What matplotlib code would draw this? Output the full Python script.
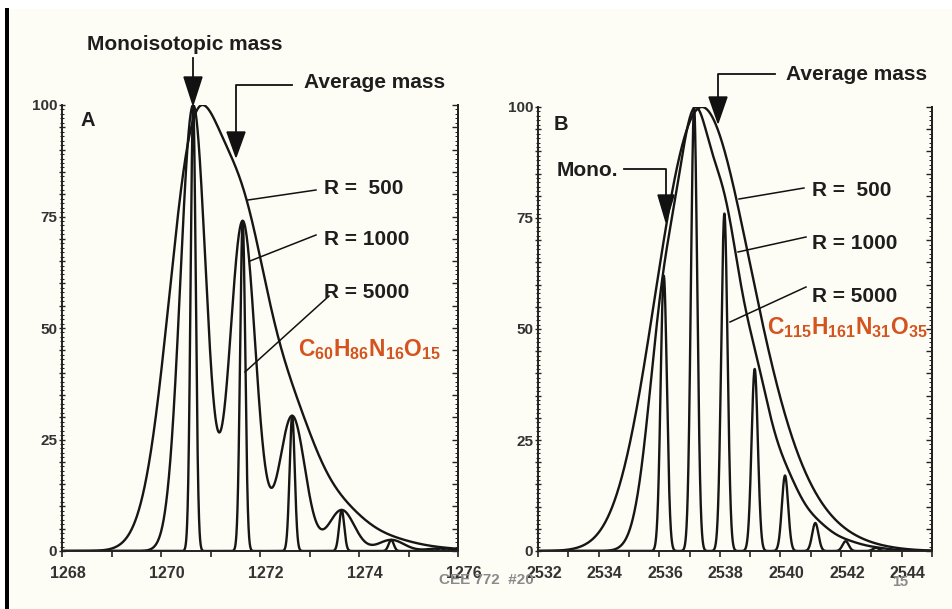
import numpy as np
import matplotlib
matplotlib.use("Agg")
import matplotlib.pyplot as plt
from matplotlib.ticker import MultipleLocator, FuncFormatter
from matplotlib.patches import Polygon, Rectangle
from matplotlib.lines import Line2D
import matplotlib.transforms as mtransforms

# ---------------- data ----------------
resolutions = [500, 1000, 5000]

# Panel A: C60H86N16O15 isotope peaks (R = 5000 heights)
massA = [1270.65, 1271.65, 1272.65, 1273.65, 1274.65, 1275.65]
intA = [100, 74, 30.3, 9.2, 2.5, 0.6]

# Panel B: C115H161N31O35 isotope peaks (R = 5000 heights)
massB = [2536.15, 2537.15, 2538.15, 2539.15, 2540.15, 2541.15, 2542.15, 2543.15]
intB = [62, 100, 76, 41, 17, 6.3, 2.2, 0.7]

xtickA = [1268, 1270, 1272, 1274, 1276]
xtickB = [2532, 2534, 2536, 2538, 2540, 2542, 2544]
ytick = [0, 25, 50, 75, 100]

VALLEY = 0.48  # FWHM = VALLEY * m / R  (10 % valley definition)

W, H = 953, 609
BG = "#fdfdf5"
plt.rcParams["font.family"] = ["Liberation Sans", "DejaVu Sans"]
plt.rcParams["mathtext.fontset"] = "custom"
plt.rcParams["mathtext.rm"] = "Liberation Sans"
plt.rcParams["mathtext.bf"] = "Liberation Sans:bold"

fig = plt.figure(figsize=(W / 100, H / 100), dpi=100)
fig.patch.set_facecolor("white")


def fx(x):
    return x / W


def fy(y):
    return 1 - y / H


# slide background + black left bar
fig.patches.append(Rectangle((fx(9), 0), 1 - fx(9), fy(9), transform=fig.transFigure,
                             facecolor=BG, edgecolor="none", zorder=-10))
fig.patches.append(Rectangle((fx(5), 0), fx(4), fy(8), transform=fig.transFigure,
                             facecolor="black", edgecolor="none", zorder=-9))


def spectrum(x, masses, ints, R):
    masses = np.asarray(masses)
    ints = np.asarray(ints, dtype=float)
    fwhm = VALLEY * masses[0] / R
    sig = fwhm / 2.3548
    y = (ints[None, :] * np.exp(-(x[:, None] - masses[None, :]) ** 2 / (2 * sig ** 2))).sum(axis=1)
    return 100 * y / y.max()


def make_axes(rect, xlim, xticks, masses, ints):
    ax = fig.add_axes(rect)
    ax.set_facecolor("none")
    x = np.linspace(xlim[0], xlim[1], 6000)
    for R in resolutions:
        ax.plot(x, spectrum(x, masses, ints, R), color="#161616", lw=1.7)
    ax.set_xlim(*xlim)
    ax.set_ylim(0, 100)
    ax.spines["top"].set_visible(False)
    for s in ["left", "right", "bottom"]:
        ax.spines[s].set_linewidth(1.4)
        ax.spines[s].set_color("#222222")
    ax.set_xticks(xticks)
    ax.xaxis.set_minor_locator(MultipleLocator(1))
    ax.tick_params(axis="x", which="both", direction="out", length=4, width=1.2,
                   labelsize=11.5, pad=7, colors="#222222", labelcolor="#333333")
    for lab in ax.get_xticklabels():
        lab.set_fontweight("bold")
    off = mtransforms.ScaledTranslation(6 / 100, 0, fig.dpi_scale_trans)
    for lab in ax.get_xticklabels():
        lab.set_transform(lab.get_transform() + off)
    ax.yaxis.set_major_locator(MultipleLocator(5))
    ax.yaxis.set_minor_locator(MultipleLocator(1))
    ax.yaxis.set_major_formatter(FuncFormatter(lambda v, p: f"{int(v)}" if int(v) in ytick else ""))
    ax.tick_params(axis="y", which="major", direction="inout", length=5, width=1.0,
                   labelsize=11, pad=1, colors="#222222", labelcolor="#333333")
    ax.tick_params(axis="y", which="minor", direction="inout", length=3, width=0.8,
                   colors="#222222")
    for lab in ax.get_yticklabels():
        lab.set_fontweight("bold")
    # right spine ticks (inward)
    axr = ax.twinx()
    axr.set_ylim(0, 100)
    axr.set_facecolor("none")
    for s in ["top", "left", "bottom"]:
        axr.spines[s].set_visible(False)
    axr.spines["right"].set_linewidth(1.4)
    axr.spines["right"].set_color("#222222")
    axr.yaxis.set_major_locator(MultipleLocator(5))
    axr.yaxis.set_minor_locator(MultipleLocator(1))
    axr.tick_params(axis="y", which="major", direction="in", length=4, width=1.0,
                    labelright=False, colors="#222222")
    axr.tick_params(axis="y", which="minor", direction="in", length=2, width=0.7,
                    colors="#222222")
    return ax


axA = make_axes([fx(62), fy(551), (458 - 62) / W, (551 - 105) / H], (1268, 1276), xtickA, massA, intA)
axB = make_axes([fx(538), fy(551), (932 - 538) / W, (551 - 107) / H], (2532, 2545), xtickB, massB, intB)


# ---------------- annotations ----------------
def fline(pts, lw=1.3):
    xs = [fx(p[0]) for p in pts]
    ys = [fy(p[1]) for p in pts]
    fig.lines.append(Line2D(xs, ys, transform=fig.transFigure, color="#111111", lw=lw))


def farrow(x, ytop, ytip, hw=9):
    fig.patches.append(Polygon([(fx(x - hw), fy(ytop)), (fx(x + hw), fy(ytop)), (fx(x), fy(ytip))],
                               closed=True, transform=fig.transFigure, facecolor="#111111",
                               edgecolor="#111111", zorder=5))


def ftext(x, y, s, size=15, ha="left", color="#1e1e1e", weight="bold"):
    fig.text(fx(x), fy(y), s, ha=ha, va="center", fontsize=size, color=color, fontweight=weight)


# Panel A
ftext(185, 45, "Monoisotopic mass", ha="center")
fline([(193, 58), (193, 80)])
farrow(193, 77, 105, hw=9)
ftext(375, 83, "Average mass", ha="center")
fline([(292, 85), (236, 85), (236, 134)])
farrow(236, 132, 157, hw=9)
ftext(88, 121, "A", size=14.5, ha="center")
ftext(324, 188, "R =  500")
fline([(316, 190), (248, 200)], lw=1.1)
ftext(324, 239, "R = 1000")
fline([(316, 235), (250, 261)], lw=1.1)
ftext(324, 293, "R = 5000")
fline([(329, 296), (245, 372)], lw=1.1)
fig.text(fx(298), fy(350), r"$\mathbf{C_{60}H_{86}N_{16}O_{15}}$", ha="left", va="center",
         fontsize=16.5, color="#d4541f")

# Panel B
ftext(857, 74, "Average mass", ha="center")
fline([(775, 74), (718, 74), (718, 99)])
farrow(718, 97, 123, hw=9)
ftext(587, 170, "Mono.", ha="center")
fline([(624, 169), (666, 169), (666, 197)])
farrow(666, 195, 222, hw=8)
ftext(561, 124, "B", size=14.5, ha="center")
ftext(812, 191, "R =  500")
fline([(804, 188), (739, 199)], lw=1.1)
ftext(812, 243, "R = 1000")
fline([(806, 237), (738, 252)], lw=1.1)
ftext(812, 296, "R = 5000")
fline([(806, 287), (730, 322)], lw=1.1)
fig.text(fx(767), fy(328), r"$\mathbf{C_{115}H_{161}N_{31}O_{35}}$", ha="left", va="center",
         fontsize=16.5, color="#d4541f")

# footer
ftext(486, 580, "CEE 772  #20", size=11, ha="center", color="#8a8a8a")
ftext(900, 582, "15", size=10.5, ha="center", color="#8a8a8a")

fig.savefig("out.png", dpi=100, facecolor=fig.get_facecolor())
